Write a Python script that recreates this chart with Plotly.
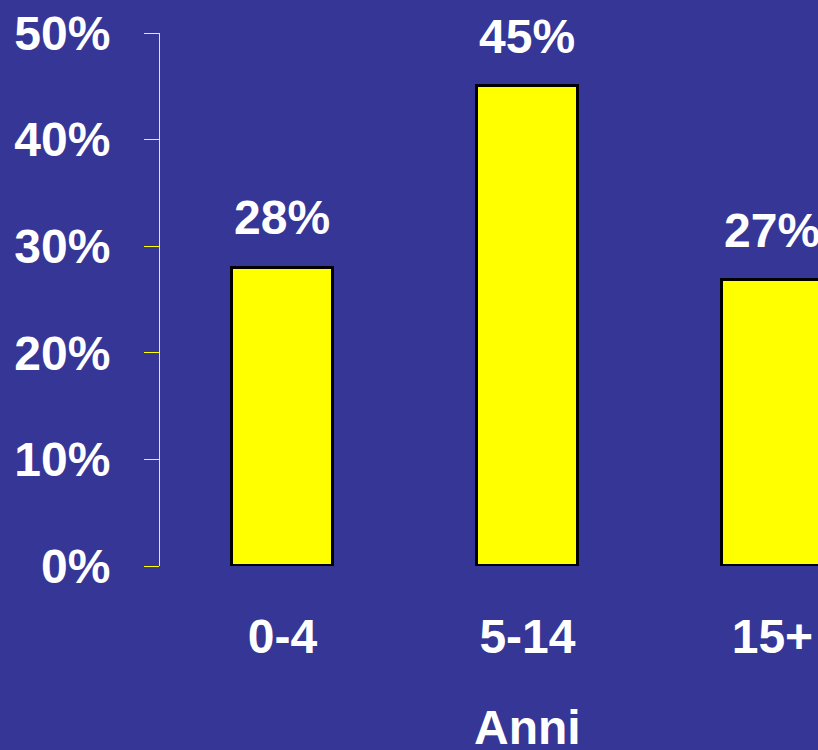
import plotly.graph_objects as go

categories = ["0-4", "5-14", "15+"]
values = [28, 45, 26.8]
value_labels = ["28%", "45%", "27%"]
y_ticks = [0, 10, 20, 30, 40, 50]
y_tick_labels = ["0%", "10%", "20%", "30%", "40%", "50%"]
axis_title = "Anni"

BG = "#363697"
FONT = dict(family="Liberation Sans, Arial, sans-serif", size=48, color="white", weight="bold")

fig = go.Figure()
fig.add_trace(go.Bar(
    x=[0, 1, 2], y=values, width=0.41,
    marker=dict(color="#FFFF00", line=dict(color="black", width=3)),
    hoverinfo="skip",
))

for i, (v, lab) in enumerate(zip(values, value_labels)):
    fig.add_annotation(x=i, y=v, text=lab, showarrow=False, yshift=50,
                       font=FONT, xref="x", yref="y")

fig.add_annotation(x=1, y=0, yref="paper", xref="x", text=axis_title,
                   showarrow=False, yshift=-162, font=FONT)

fig.update_layout(
    width=818, height=750,
    paper_bgcolor=BG, plot_bgcolor=BG,
    margin=dict(l=160, r=0, t=33, b=184),
    showlegend=False,
    bargap=0,
)
fig.update_xaxes(
    range=[-0.5, 2.186], tickmode="array", tickvals=[0, 1, 2], ticktext=categories,
    showline=False, showgrid=False, zeroline=False, ticks="",
    tickfont=FONT, ticklabelstandoff=38,
)
fig.update_yaxes(
    range=[0, 50], tickmode="array", tickvals=y_ticks, ticktext=y_tick_labels,
    showline=True, linecolor="#FFFF00", linewidth=1,
    ticks="outside", ticklen=15, tickcolor="#FFFF00", tickwidth=1,
    showgrid=False, zeroline=False, tickfont=FONT, ticklabelstandoff=24,
)

fig.update_annotations(selector=dict(text=axis_title), yshift=-190)

fig.write_html("out.html")
